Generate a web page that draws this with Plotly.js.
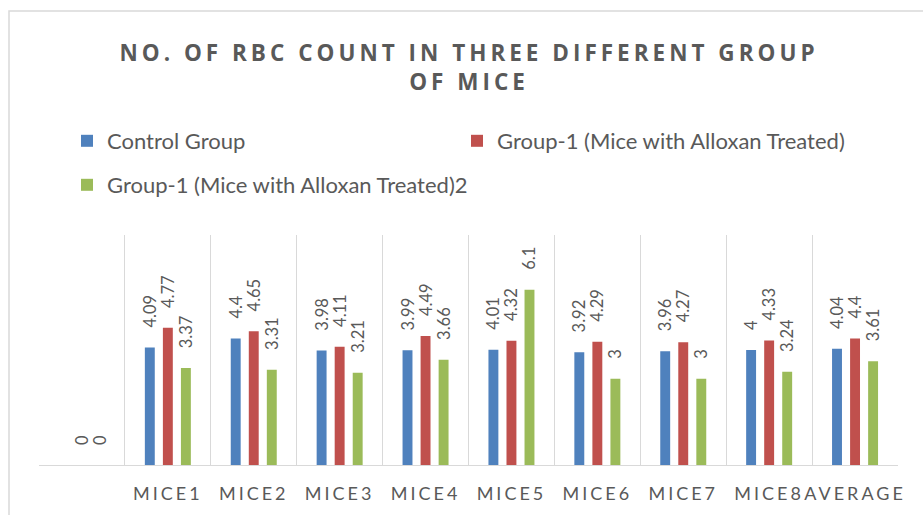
<!DOCTYPE html>
<html>
<head>
<meta charset="utf-8">
<script src="https://cdn.plot.ly/plotly-3.0.1.min.js"></script>
<style>
html,body{margin:0;padding:0;background:#fff;}
#chart{width:923px;height:515px;}
</style>
</head>
<body>
<div id="chart"></div>
<script>
// ---- data ----
const categories = [" ", "MICE1", "MICE2", "MICE3", "MICE4", "MICE5", "MICE6", "MICE7", "MICE8", "AVERAGE"];
const tickLabels = ["", "MICE1", "MICE2", "MICE3", "MICE4", "MICE5", "MICE6", "MICE7", "MICE8", "AVERAGE"];
const seriesNames = ["Control Group", "Group-1 (Mice with Alloxan Treated)", "Group-1 (Mice with Alloxan Treated)2"];
const controlGroup = [null, 4.09, 4.4, 3.98, 3.99, 4.01, 3.92, 3.96, 4, 4.04];
const group1 = [0, 4.77, 4.65, 4.11, 4.49, 4.32, 4.29, 4.27, 4.33, 4.4];
const group1b = [0, 3.37, 3.31, 3.21, 3.66, 6.1, 3, 3, 3.24, 3.61];
const colors = ["#4f81bd", "#c0504d", "#9bbb59"];

const txtColor = "#595959";
const fontFam = "Lato, 'Open Sans', sans-serif";

function mk(vals, i, legendId) {
  return {
    type: "bar",
    x: categories,
    y: vals,
    name: seriesNames[i],
    marker: {color: colors[i]},
    texttemplate: "\u00a0\u00a0\u00a0\u00a0%{y}",
    textposition: "outside",
    textangle: -90,
    constraintext: "none",
    cliponaxis: false,
    textfont: {family: fontFam, size: 16.5, color: txtColor},
    legend: legendId,
    hoverinfo: "x+y+name"
  };
}

const data = [
  mk(controlGroup, 0, "legend"),
  mk(group1, 1, "legend2"),
  mk(group1b, 2, "legend3")
];

const plotH = 515 - 235 - 50;
const plotW = 923 - 39 - 25;
function pyToPaper(py) { return (515 - 50 - py) / plotH; }
function pxToPaper(px) { return (px - 39) / plotW; }

const legendFont = {family: fontFam, size: 22, color: txtColor};
function legendAt(px, py) {
  return {
    orientation: "h",
    x: pxToPaper(px), xanchor: "left", xref: "paper",
    y: pyToPaper(py), yanchor: "middle", yref: "paper",
    font: legendFont,
    bgcolor: "rgba(0,0,0,0)",
    borderwidth: 0
  };
}

const layout = {
  width: 923,
  height: 515,
  margin: {l: 39, r: 25, t: 235, b: 50, pad: 0},
  paper_bgcolor: "#ffffff",
  plot_bgcolor: "#ffffff",
  font: {family: fontFam, color: txtColor},
  title: {
    text: "NO. OF RBC COUNT IN THREE DIFFERENT GROUP<br>OF MICE",
    font: {family: "'Open Sans', Lato, sans-serif", size: 22.5, color: txtColor, weight: 700},
    x: 469 / 923, xanchor: "center", xref: "container",
    y: 1 - 61 / 515, yanchor: "middle", yref: "container"
  },
  barmode: "group",
  bargap: 0.37,
  bargroupgap: 0.45,
  showlegend: true,
  legend: legendAt(67, 141),
  legend2: legendAt(457, 141),
  legend3: legendAt(67, 185),
  xaxis: {
    type: "category",
    tickson: "boundaries",
    showgrid: true,
    gridcolor: "#d9d9d9",
    gridwidth: 1,
    showline: true,
    linecolor: "#d9d9d9",
    linewidth: 1,
    ticks: "",
    tickangle: 0,
    ticklabelstandoff: 12,
    tickmode: "array",
    tickvals: categories,
    ticktext: tickLabels,
    tickfont: {family: fontFam, size: 18, color: txtColor},
    zeroline: false,
    fixedrange: true
  },
  yaxis: {
    range: [0, 8],
    showgrid: false,
    showticklabels: false,
    showline: false,
    zeroline: false,
    ticks: "",
    fixedrange: true
  },
  shapes: [{
    type: "rect",
    xref: "paper", yref: "paper",
    x0: pxToPaper(9), x1: 1.2,
    y0: -0.5, y1: pyToPaper(11),
    line: {color: "#d9d9d9", width: 1.5},
    fillcolor: "rgba(0,0,0,0)",
    layer: "below"
  }]
};

Plotly.newPlot("chart", data, layout, {staticPlot: true, displayModeBar: false}).then(function(gd){
  gd.querySelectorAll(".gtitle").forEach(function(e){ e.style.letterSpacing = "4px"; });
  gd.querySelectorAll(".xtick text").forEach(function(e){ e.style.letterSpacing = "3px"; });
});
</script>
</body>
</html>
